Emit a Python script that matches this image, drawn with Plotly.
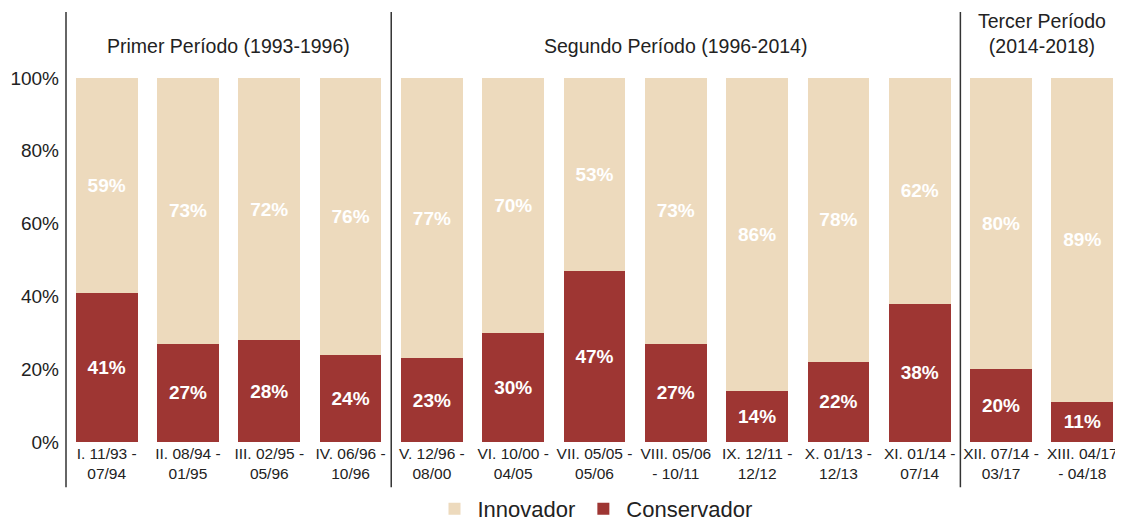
import plotly.graph_objects as go

# Datos (porcentajes por ciclo)
categorias = [
    "I. 11/93 -<br>07/94", "II. 08/94 -<br>01/95", "III. 02/95 -<br>05/96",
    "IV. 06/96 -<br>10/96", "V. 12/96 -<br>08/00", "VI. 10/00 -<br>04/05",
    "VII. 05/05 -<br>05/06", "VIII. 05/06<br>- 10/11", "IX. 12/11 -<br>12/12",
    "X. 01/13 -<br>12/13", "XI. 01/14 -<br>07/14", "XII. 07/14 -<br>03/17",
    "XIII. 04/17<br>- 04/18",
]
conservador = [41, 27, 28, 24, 23, 30, 47, 27, 14, 22, 38, 20, 11]
innovador = [59, 73, 72, 76, 77, 70, 53, 73, 86, 78, 62, 80, 89]

y_ticks = [0, 20, 40, 60, 80, 100]

periodos = ["Primer Período (1993-1996)", "Segundo Período (1996-2014)",
            "Tercer Período<br>(2014-2018)"]
periodo_inicio = [0, 4, 11]
periodo_fin = [3, 10, 12]

COL_INN = "#EDDABD"
COL_CON = "#9E3633"
FONT = "Liberation Sans"

x_idx = list(range(len(categorias)))

fig = go.Figure()
for nombre, vals, col in [("Conservador", conservador, COL_CON),
                          ("Innovador", innovador, COL_INN)]:
    fig.add_trace(go.Bar(
        name=nombre, x=x_idx, y=vals, marker_color=col,
        marker_line_width=0,
        text=[f"{v}%" for v in vals], textposition="inside",
        insidetextanchor="middle",
        textfont=dict(color="white", size=19, family=FONT, weight="bold"),
    ))

# líneas separadoras de períodos
fig.add_shape(type="line", xref="paper", yref="paper", x0=0, x1=0,
              y0=-0.124, y1=1.181, line=dict(color="#333", width=1.5))
for ini in periodo_inicio[1:]:
    fig.add_shape(type="line", xref="x", yref="paper", x0=ini - 0.5, x1=ini - 0.5,
                  y0=-0.124, y1=1.181, line=dict(color="#333", width=1.5))

# títulos de períodos
for nombre, a, b in zip(periodos, periodo_inicio, periodo_fin):
    fig.add_annotation(x=(a + b) / 2, xref="x", y=1, yref="paper",
                       yanchor="bottom", yshift=19, text=nombre, showarrow=False,
                       font=dict(size=19.5, color="#222", family=FONT))

# la página añade 8 px de margen: el lienzo se reduce en consecuencia
fig.update_layout(
    barmode="stack",
    bargap=0.24,
    width=1115, height=515,
    margin=dict(l=58, r=0, t=70, b=81, autoexpand=False),
    paper_bgcolor="white", plot_bgcolor="white",
    font=dict(family=FONT, color="#222"),
    showlegend=True,
    legend=dict(orientation="h", x=0.5, xanchor="center", y=-0.184,
                yanchor="middle", traceorder="reversed", itemwidth=36,
                font=dict(size=22, color="#222")),
    xaxis=dict(range=[-0.5, len(categorias) - 0.5], tickvals=x_idx,
               ticktext=categorias, showgrid=False, zeroline=False,
               showline=False, ticks="", automargin=False,
               tickfont=dict(size=15.5, color="#222")),
    yaxis=dict(range=[0, 100], tickvals=y_ticks,
               ticktext=[f"{t}%" for t in y_ticks], showgrid=False,
               zeroline=False, showline=False, ticks="", automargin=False,
               ticklabelstandoff=6,
               tickfont=dict(size=19, color="#222")),
)

fig.write_html("out.html")
